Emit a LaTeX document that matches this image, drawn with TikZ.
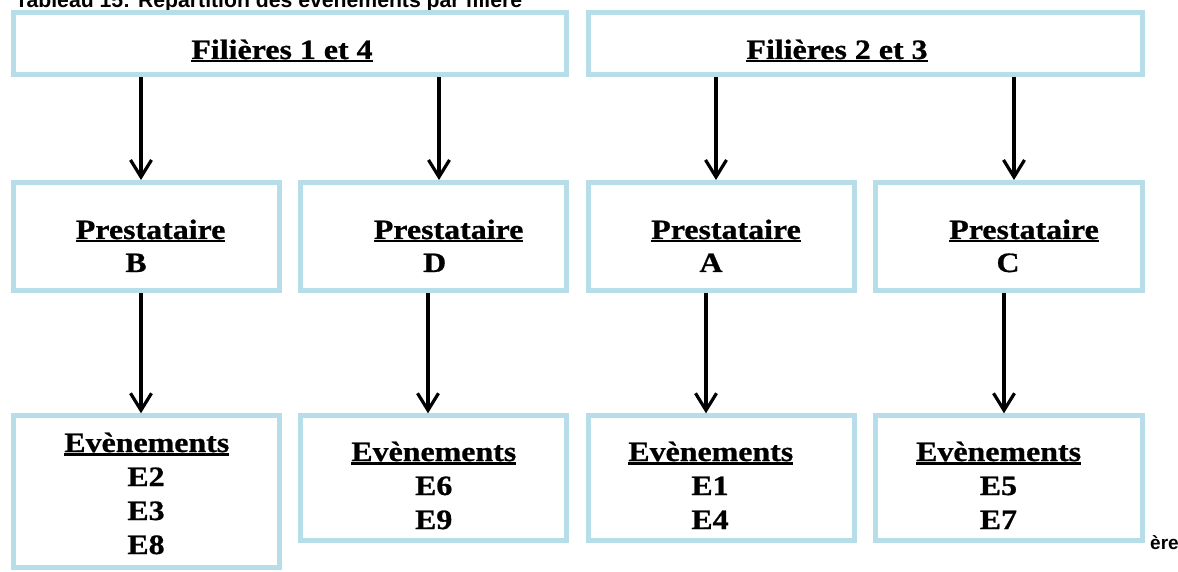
\documentclass[tikz,border=0pt]{standalone}
\usepackage{fontspec}
\usetikzlibrary{arrows.meta}
\newfontfamily\boxfont{Liberation Serif}[FakeStretch=1.14,FakeBold=0.8]
\newfontfamily\capfont{Liberation Sans}
\definecolor{boxblue}{HTML}{B7DDE8}
\newsavebox\ulbox
\newcommand{\undl}[1]{\sbox\ulbox{#1}\rlap{\rule[-3.5pt]{\wd\ulbox}{2.2pt}}\usebox\ulbox}
\begin{document}
\begin{tikzpicture}[x=1pt,y=-1pt,
  box/.style={draw=boxblue,line width=5pt,inner sep=0pt,rectangle},
  lbl/.style={font=\boxfont\bfseries\fontsize{28}{34}\selectfont,anchor=base,inner sep=0pt},
  capl/.style={font=\capfont\bfseries\fontsize{21.2}{25}\selectfont,anchor=base west,inner sep=0pt},
  arr/.style={line width=3.2pt,-{Straight Barb[length=17pt,width=21pt]}}]
\fill[white] (0,0) rectangle (1178,572);
\clip (0,0) rectangle (1178,572);
% caption fragments
\node[capl] (title) at (15,8) {Tableau 15: Répartition des évènements par filière};
\node[capl,font=\capfont\bfseries\fontsize{19}{22}\selectfont] (ere) at (1150,549) {ère};
% top boxes
\node[box,minimum width=553.5pt,minimum height=62pt] (t1) at (290.05,43.5) {};
\node[box,minimum width=553.5pt,minimum height=62pt] (t2) at (865.25,43.5) {};
\node[lbl] (t1l) at (282,59) {\undl{Filières 1 et 4}};
\node[lbl] (t2l) at (837,59) {\undl{Filières 2 et 3}};
% middle boxes
\node[box,minimum width=265.9pt,minimum height=107.7pt] (b) at (146.25,236.35) {};
\node[box,minimum width=266pt,minimum height=107.7pt] (d) at (433.8,236.35) {};
\node[box,minimum width=266.3pt,minimum height=107.7pt] (a) at (721.65,236.35) {};
\node[box,minimum width=266.2pt,minimum height=107.7pt] (c) at (1008.9,236.35) {};
\node[lbl] (bp) at (150.6,239) {\undl{Prestataire}};
\node[lbl] (bl) at (136,272) {B};
\node[lbl] (dp) at (448.6,239) {\undl{Prestataire}};
\node[lbl] (dl) at (434.7,272) {D};
\node[lbl] (ap) at (726,239) {\undl{Prestataire}};
\node[lbl] (al) at (711,272) {A};
\node[lbl] (cp) at (1024,239) {\undl{Prestataire}};
\node[lbl] (cl) at (1008,272) {C};
% bottom boxes
\node[box,minimum width=265.9pt,minimum height=151.7pt] (eb) at (146.25,491.65) {};
\node[box,minimum width=266pt,minimum height=125pt] (ed) at (433.8,478.3) {};
\node[box,minimum width=266.3pt,minimum height=125pt] (ea) at (721.65,478.3) {};
\node[box,minimum width=266.2pt,minimum height=125pt] (ec) at (1008.9,478.3) {};
\node[lbl] (ebh) at (146.8,452) {\undl{Evènements}};
\node[lbl] (eb1) at (146,486) {E2};
\node[lbl] (eb2) at (146,520) {E3};
\node[lbl] (eb3) at (146,554) {E8};
\node[lbl] (edh) at (433.8,461) {\undl{Evènements}};
\node[lbl] (ed1) at (433.7,495) {E6};
\node[lbl] (ed2) at (433.7,529) {E9};
\node[lbl] (eah) at (710.8,461) {\undl{Evènements}};
\node[lbl] (ea1) at (710,495) {E1};
\node[lbl] (ea2) at (710,529) {E4};
\node[lbl] (ech) at (998.6,461) {\undl{Evènements}};
\node[lbl] (ec1) at (998.4,495) {E5};
\node[lbl] (ec2) at (998.4,529) {E7};
% arrow columns
\coordinate (x1) at (141,0);
\coordinate (x2) at (439,0);
\coordinate (x3) at (716,0);
\coordinate (x4) at (1014,0);
\coordinate (y1) at (141,0);
\coordinate (y2) at (428,0);
\coordinate (y3) at (706,0);
\coordinate (y4) at (1004,0);
\draw[arr] (t1.south -| x1) -- (b.north -| x1);
\draw[arr] (t1.south -| x2) -- (d.north -| x2);
\draw[arr] (t2.south -| x3) -- (a.north -| x3);
\draw[arr] (t2.south -| x4) -- (c.north -| x4);
\draw[arr] (b.south -| y1) -- (eb.north -| y1);
\draw[arr] (d.south -| y2) -- (ed.north -| y2);
\draw[arr] (a.south -| y3) -- (ea.north -| y3);
\draw[arr] (c.south -| y4) -- (ec.north -| y4);
\end{tikzpicture}
\end{document}
